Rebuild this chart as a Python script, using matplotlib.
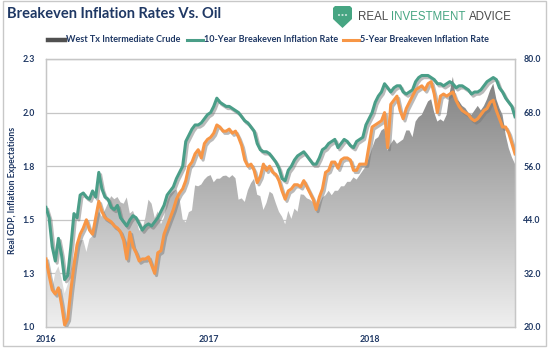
import matplotlib
matplotlib.use('agg')
import matplotlib.pyplot as plt
import matplotlib.dates as mdates
import matplotlib.patheffects as pe
from matplotlib.lines import Line2D
from matplotlib.patches import Polygon, Circle, Rectangle
from matplotlib.colors import LinearSegmentedColormap
import numpy as np
import pandas as pd

# weekly observations, Fridays, Jan 2016 - Nov 2018
weeks = pd.date_range('2016-01-01', periods=152, freq='W-FRI')

# West Texas Intermediate crude, $/bbl (right axis)
oil = [37.0, 33.2, 28.5, 32.2, 33.6, 30.9, 27.5, 29.6, 32.8, 35.9, 38.5, 39.4, 39.5,
       36.8, 39.7, 40.4, 43.7, 45.9, 44.7, 46.2, 47.8, 49.3, 48.6, 49.1, 47.9, 47.6,
       49.0, 45.4, 46.0, 44.2, 41.6, 41.8, 44.5, 48.5, 47.6, 44.4, 45.9, 43.0, 44.5,
       48.2, 49.8, 50.4, 50.8, 48.7, 44.1, 43.4, 45.7, 46.1, 51.7, 51.5, 51.9, 53.0, 53.7,
       54.0, 52.4, 53.2, 53.2, 53.8, 53.9, 53.4, 54.0, 53.3, 48.5, 48.8, 48.0, 50.6,
       52.2, 53.2, 49.6, 49.3, 46.2, 47.8, 50.3, 49.8, 47.7, 45.8, 44.7, 43.0, 46.0,
       44.2, 46.5, 45.8, 49.7, 49.6, 48.8, 48.5, 47.9, 47.3, 47.5, 49.0, 49.5, 50.5,
       49.5, 50.5, 50.5, 51.5, 51.5, 52.5, 52.5, 53.5, 53.0, 54.0, 55.0, 56.0, 58.0,
       60.0, 62.0, 62.5, 64.0, 64.5, 59.5, 61.0, 62.0, 61.0, 61.5, 62.0, 64.0, 64.0,
       62.5, 66.0, 67.0, 67.5, 69.0, 70.5, 71.0, 68.0, 66.0, 66.5, 66.0, 67.5, 72.5,
       76.0, 71.0, 70.5, 69.5, 69.0, 68.0, 67.5, 68.5, 69.5, 68.5, 69.5, 71.0, 73.0,
       74.5, 71.0, 69.0, 67.5, 63.0, 60.0, 58.0, 56.5]

# 10-year breakeven inflation rate, % (left axis)
be10 = [1.58, 1.53, 1.39, 1.32, 1.43, 1.35, 1.23, 1.25, 1.39, 1.55, 1.53, 1.64, 1.65,
        1.63, 1.62, 1.66, 1.63, 1.75, 1.67, 1.63, 1.62, 1.58, 1.57, 1.59, 1.53, 1.51,
        1.49, 1.52, 1.54, 1.53, 1.50, 1.47, 1.49, 1.50, 1.49, 1.51, 1.53, 1.56, 1.59,
        1.64, 1.66, 1.68, 1.72, 1.75, 1.78, 1.90, 1.93, 1.96, 1.98, 1.98, 1.99, 2.01,
        2.03, 2.04, 2.07, 2.11, 2.09, 2.08, 2.07, 2.07, 2.06, 2.05, 2.04, 2.02, 2.00,
        1.99, 1.97, 1.95, 1.89, 1.86, 1.85, 1.85, 1.84, 1.82, 1.80, 1.77, 1.72, 1.71,
        1.76, 1.78, 1.81, 1.83, 1.84, 1.85, 1.83, 1.81, 1.79, 1.79, 1.82, 1.86, 1.87,
        1.89, 1.90, 1.91, 1.87, 1.89, 1.91, 1.90, 1.88, 1.87, 1.90, 1.91, 1.92, 1.98,
        2.01, 2.04, 2.09, 2.12, 2.14, 2.18, 2.16, 2.14, 2.16, 2.17, 2.17, 2.14, 2.13,
        2.14, 2.15, 2.19, 2.21, 2.22, 2.22, 2.22, 2.21, 2.20, 2.18, 2.18, 2.17, 2.18,
        2.19, 2.18, 2.16, 2.17, 2.17, 2.16, 2.15, 2.13, 2.14, 2.14, 2.15, 2.17, 2.19,
        2.20, 2.21, 2.20, 2.16, 2.14, 2.11, 2.09, 2.07, 2.02]

# 5-year breakeven inflation rate, % (left axis)
be5 = [1.33, 1.25, 1.18, 1.16, 1.19, 1.11, 1.01, 1.04, 1.18, 1.30, 1.40, 1.45, 1.48,
       1.52, 1.47, 1.45, 1.53, 1.61, 1.56, 1.53, 1.52, 1.51, 1.49, 1.48, 1.46, 1.42,
       1.33, 1.46, 1.39, 1.36, 1.32, 1.33, 1.33, 1.34, 1.30, 1.26, 1.36, 1.37, 1.45,
       1.49, 1.53, 1.57, 1.62, 1.65, 1.67, 1.71, 1.78, 1.80, 1.84, 1.86, 1.82, 1.89,
       1.91, 1.92, 1.94, 1.98, 1.97, 1.95, 1.95, 1.96, 1.94, 1.95, 1.92, 1.88, 1.81,
       1.78, 1.79, 1.76, 1.70, 1.73, 1.79, 1.76, 1.78, 1.75, 1.74, 1.71, 1.66, 1.62,
       1.66, 1.67, 1.69, 1.69, 1.68, 1.71, 1.68, 1.65, 1.62, 1.57, 1.63, 1.67, 1.75,
       1.76, 1.80, 1.80, 1.77, 1.81, 1.82, 1.82, 1.81, 1.76, 1.76, 1.79, 1.79, 1.79,
       1.88, 1.97, 1.98, 1.99, 2.00, 2.04, 1.87, 2.08, 2.10, 2.12, 2.05, 2.01, 2.06,
       2.09, 2.12, 2.15, 2.16, 2.17, 2.15, 2.18, 2.19, 2.13, 2.04, 2.12, 2.13, 2.12,
       2.13, 2.14, 2.10, 2.07, 2.05, 2.04, 2.03, 2.01, 2.00, 2.01, 2.03, 2.05, 2.06,
       2.09, 2.10, 2.05, 2.01, 1.97, 1.97, 1.94, 1.89, 1.84]

left_ticks = [1.0, 1.26, 1.52, 1.78, 2.04, 2.3]
left_labels = ['1.0', '1.3', '1.5', '1.8', '2.0', '2.3']
right_ticks = [20, 32, 44, 56, 68, 80]
right_labels = ['20.0', '32.0', '44.0', '56.0', '68.0', '80.0']
year_ticks = pd.to_datetime(['2016-01-01', '2017-01-01', '2018-01-01'])
year_labels = ['2016', '2017', '2018']

navy = '#1f3864'
green = '#4a9e88'
orange = '#f79646'
gridc = '#c6c6c6'
W, H = 550, 351

fig = plt.figure(figsize=(5.5, 3.51), dpi=100)
fig.patch.set_facecolor('white')

ax = fig.add_axes([46 / W, 1 - 327 / H, 469 / W, 268 / H])
ax2 = ax.twinx()
ax.set_zorder(3)
ax2.set_zorder(2)
ax.patch.set_visible(False)

xmin, xmax = pd.Timestamp('2016-01-01'), pd.Timestamp('2018-11-23')

# oil: gradient-filled area on the right axis
x0n, x1n = mdates.date2num(xmin), mdates.date2num(xmax)
grad = np.linspace(0, 1, 256).reshape(-1, 1)
cmap = LinearSegmentedColormap.from_list('oilgrad', ['#efefef', '#7a7a7a'])
im = ax2.imshow(grad, extent=[x0n, x1n, 20, 80], origin='lower', aspect='auto',
                cmap=cmap, zorder=2)
area = ax2.fill_between(weeks, oil, 20, color='none', lw=0, zorder=2)
im.set_clip_path(area.get_paths()[0], ax2.transData)

ax2.set_ylim(20, 80)
ax2.set_yticks(right_ticks)
ax2.set_yticklabels(right_labels)
ax2.grid(True, axis='both', color=gridc, lw=0.9, zorder=0)
ax2.set_axisbelow(True)

shadow = [pe.SimpleLineShadow(offset=(1.3, -1.6), shadow_color='#777777', alpha=0.5),
          pe.Normal()]
ax.plot(weeks, be10, color=green, lw=2.2, path_effects=shadow, zorder=4)
ax.plot(weeks, be5, color=orange, lw=2.2, path_effects=shadow, zorder=5)

ax.set_xlim(xmin, xmax)
ax.set_ylim(1.0, 2.3)
ax.set_yticks(left_ticks)
ax.set_yticklabels(left_labels)
ax.set_xticks(year_ticks)
ax.set_xticklabels(year_labels)
ax2.set_xticks(year_ticks)

for a in (ax, ax2):
    for s in a.spines.values():
        s.set_color(gridc)
        s.set_linewidth(0.9)
    a.tick_params(length=0, labelsize=6.3, labelcolor=navy)
    for t in a.get_xticklabels() + a.get_yticklabels():
        t.set_fontweight('bold')
        t.set_family('Lato')
ax.tick_params(axis='y', pad=8)
ax2.tick_params(axis='y', pad=6)
ax.tick_params(axis='x', pad=6)

fig.text(13 / W, 1 - 190 / H, 'Real GDP, Inflation Expectations', rotation=90,
         ha='center', va='center', fontsize=6.3, fontweight='bold', color=navy,
         family='Lato')

# title
fig.text(7 / W, 1 - 14 / H, 'Breakeven Inflation Rates Vs. Oil', ha='left',
         va='center', fontsize=10.5, fontweight='bold', color=navy, family='Lato')

# logo
sx0, sx1, sy0, sy1 = 333, 352, 6, 28
shield = [(sx0, sy0 + 2), (sx0 + 2, sy0), (sx1 - 2, sy0), (sx1, sy0 + 2),
          (sx1, sy0 + 13), ((sx0 + sx1) / 2, sy1), (sx0, sy0 + 13)]
fig.add_artist(Polygon([(x / W, 1 - y / H) for x, y in shield], closed=True,
                       transform=fig.transFigure, facecolor='#46a582', edgecolor='none'))
for dx in (-3.5, 0, 3.5):
    fig.add_artist(Circle(((sx0 + sx1) / 2 / W + dx / W, 1 - 15 / H), 1.1 / W,
                          transform=fig.transFigure, facecolor='white', edgecolor='none'))
renderer = fig.canvas.get_renderer()
lx = 358
for word, col in (('REAL ', '#4a4a4a'), ('INVESTMENT ', '#46a582'), ('ADVICE', '#4a4a4a')):
    t = fig.text(lx / W, 1 - 17 / H, word, ha='left', va='center', fontsize=8.3,
                 color=col, family='Liberation Sans')
    bb = t.get_window_extent(renderer)
    lx += bb.width

# legend
legend_items = [('West Tx Intermediate Crude', '#505050', 48, 65),
                ('10-Year Breakeven Inflation Rate', green, 187, 203),
                ('5-Year Breakeven Inflation Rate', orange, 343, 359)]
ly = 1 - 40 / H
for label, col, a, b in legend_items:
    fig.add_artist(Line2D([a / W, b / W], [ly, ly], transform=fig.transFigure,
                          color=col, lw=2.2 if col != '#505050' else 3.2))
    fig.text((b + 1) / W, ly, label, ha='left', va='center', fontsize=6.5,
             fontweight='bold', color=navy, family='Lato')

# outer frame
fig.add_artist(Rectangle((3 / W, 1 - 346 / H), 543 / W, 345 / H, transform=fig.transFigure,
                         facecolor='none', edgecolor='#c8c8c8', lw=1.0))

fig.savefig('out.png', dpi=100)
